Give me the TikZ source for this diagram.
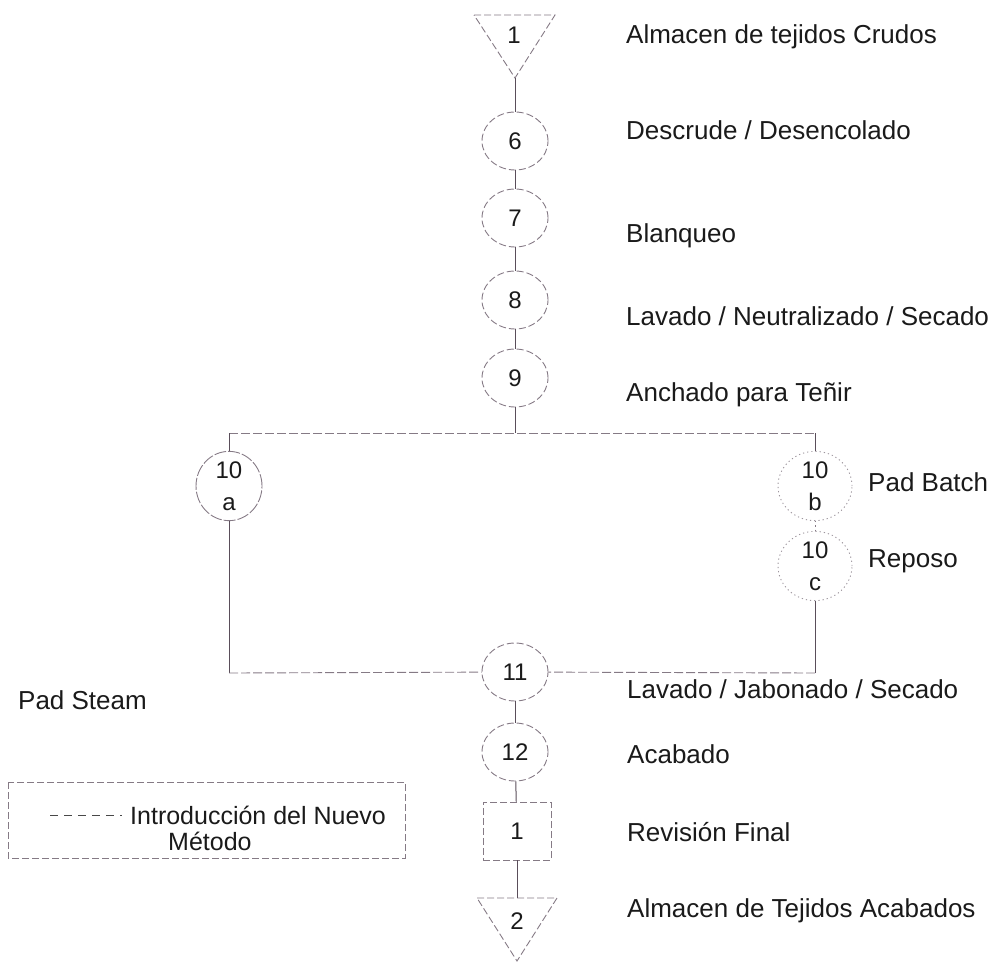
\documentclass[tikz,border=0pt]{standalone}
\usepackage{fontspec}
\setmainfont{Liberation Sans}
\usetikzlibrary{shapes.geometric}
\definecolor{ln}{HTML}{5A4E5A}
\definecolor{sh}{HTML}{857A85}
\definecolor{tx}{HTML}{1A1A1A}
\begin{document}
\begin{tikzpicture}[x=1pt,y=-1pt,
  lbl/.style={anchor=west,font=\fontsize{26}{30}\selectfont,text=tx,inner sep=0pt},
  lgd/.style={lbl,font=\fontsize{25}{30}\selectfont},
  num/.style={font=\fontsize{24}{32}\selectfont,text=tx,inner sep=0pt,align=center},
  proc/.style={ellipse,draw=sh,dash pattern=on 7pt off 3pt,line width=0.9pt,minimum width=66pt,minimum height=58pt,inner sep=0pt,num},
  newproc/.style={proc,draw=sh!80,dash pattern=on 1.2pt off 3pt,minimum width=74pt,minimum height=60pt},
  shp/.style={draw=sh,dash pattern=on 7pt off 3pt,line width=0.9pt},
  conn/.style={draw=ln,line width=1pt},
  hline/.style={draw=sh,line width=0.9pt,dash pattern=on 9pt off 3pt},
  dline/.style={draw=sh,line width=1pt,dash pattern=on 1.2pt off 3pt}]
\useasboundingbox (0,0) rectangle (992,961);
% top triangle
\draw[shp] (474,15) -- (555,15) -- (515,78) -- cycle;
\coordinate (t1) at (515,78);
\node[num] (n1) at (514,35) {1};
% main column
\node[proc] (c6) at (515,141) {6};
\node[proc] (c7) at (515,218) {7};
\node[proc] (c8) at (515,300) {8};
\node[proc] (c9) at (515,378) {9};
\draw[conn] (t1) -- (c6);
\draw[conn] (c6) -- (c7);
\draw[conn] (c7) -- (c8);
\draw[conn] (c8) -- (c9);
% branch
\coordinate (jt) at (515,433);
\coordinate (jl) at (229,433);
\coordinate (jr) at (815,433);
\coordinate (bl) at (229,673);
\coordinate (br) at (815,673);
\draw[conn] (c9) -- (jt);
\draw[hline] (jl) -- (jr);
\node[proc,dash pattern=on 12pt off 2pt] (c10a) at (229,486) {10\\a};
\node[newproc] (c10b) at (815,486) {10\\b};
\node[newproc] (c10c) at (815,566) {10\\c};
\draw[conn] (jl) -- (c10a);
\draw[conn] (jr) -- (c10b);
\draw[dline] (c10b) -- (c10c);
\draw[conn] (c10a) -- (bl);
\draw[conn] (c10c) -- (br);
\node[proc] (c11) at (515,672) {11};
\draw[hline] (bl) -- (c11);
\draw[hline] (br) -- (c11);
\node[proc] (c12) at (515,752) {12};
\draw[conn] (c11) -- (c12);
\node[shp,rectangle,minimum width=68pt,minimum height=58pt,inner sep=0pt,num] (sq) at (517,831) {1};
\draw[conn] (c12) -- (sq);
% bottom triangle
\draw[shp] (477,898) -- (557,898) -- (517,961) -- cycle;
\coordinate (t2) at (517,898);
\node[num] (n2) at (517,921) {2};
\draw[conn] (sq) -- (t2);
% labels
\node[lbl] (l1) at (626,37) {Almacen de tejidos Crudos};
\node[lbl] (l6) at (626,130) {Descrude / Desencolado};
\node[lbl] (l7) at (626,236) {Blanqueo};
\node[lbl] (l8) at (626,316) {Lavado / Neutralizado / Secado};
\node[lbl] (l9) at (626,395) {Anchado para Teñir};
\node[lbl] (l10b) at (868,482) {Pad Batch};
\node[lbl] (l10c) at (868,561) {Reposo};
\node[lbl] (l11) at (627,689) {Lavado / Jabonado / Secado};
\node[lbl] (l12) at (627,754) {Acabado};
\node[lbl] (l13) at (627,832) {Revisión Final};
\node[lbl] (l14) at (627,911) {Almacen de Tejidos Acabados};
\node[lbl] (lps) at (18,700) {Pad Steam};
% legend
\draw[shp] (8,782) rectangle (405,858);
\coordinate (ld1) at (50,815);
\coordinate (ld2) at (122,815);
\draw[draw=tx!80,line width=1pt,dash pattern=on 8pt off 6pt] (ld1) -- (ld2);
\node[lgd] (lg1) at (130,815) {Introducción del Nuevo};
\node[lgd] (lg2) at (168,841) {Método};
\end{tikzpicture}
\end{document}
